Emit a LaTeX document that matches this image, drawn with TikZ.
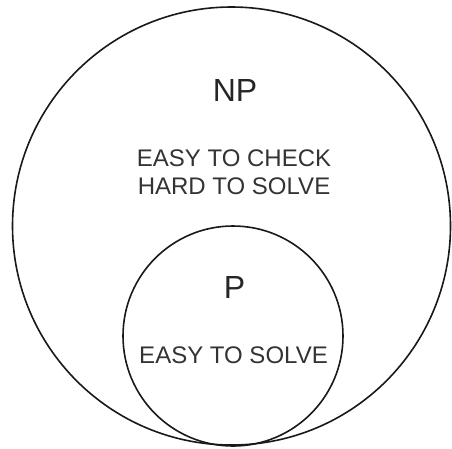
\documentclass[tikz,border=0pt]{standalone}
\usepackage{fontspec}
\setmainfont{Liberation Sans}
\tikzset{
  setline/.style={line width=1.6pt, black!90},
  classlabel/.style={anchor=base, inner sep=0pt, text=black!85, font=\fontsize{32}{38}\selectfont},
  notelabel/.style={anchor=base, inner sep=0pt, text=black!80, font=\fontsize{24}{28}\selectfont}
}
\begin{document}
\begin{tikzpicture}[x=1pt, y=-1pt]
  \useasboundingbox (0,0) rectangle (452,448);
  % NP set
  \draw[setline] (231.5,226) circle (219);
  % P set, touching NP at the bottom
  \draw[setline] (233,336) circle (110);
  % NP labels
  \node[classlabel] (np) at (235,101.5) {NP};
  \node[notelabel] (npcheck) at (234,166) {EASY TO CHECK};
  \node[notelabel] (npsolve) at (234,194) {HARD TO SOLVE};
  % P labels
  \node[classlabel] (p) at (234.5,298) {P};
  \node[notelabel] (psolve) at (233.5,363) {EASY TO SOLVE};
\end{tikzpicture}
\end{document}
